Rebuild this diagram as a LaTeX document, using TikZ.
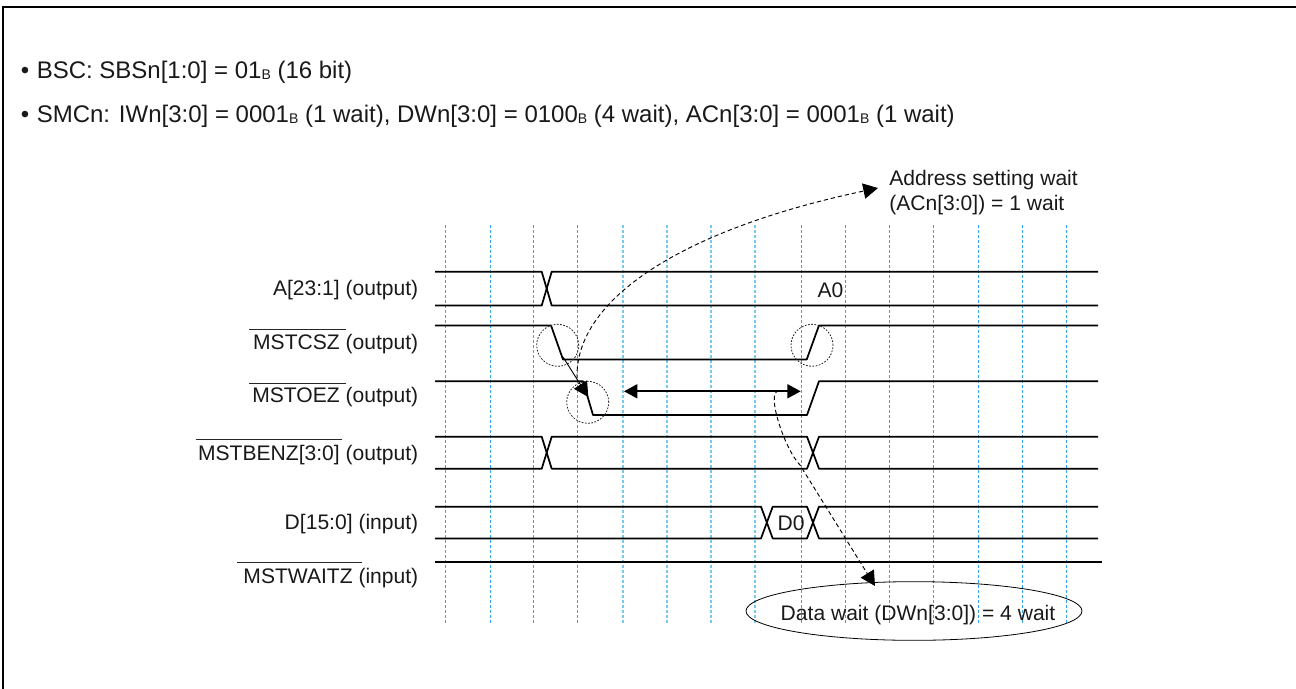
\documentclass[tikz,border=0pt]{standalone}
\usepackage{fontspec}
\setmainfont{Liberation Sans}
\usetikzlibrary{arrows.meta,shapes.geometric}
\definecolor{gridblue}{RGB}{50,165,230}
\definecolor{gridlight}{RGB}{120,200,240}
\newcommand{\subB}{\raisebox{-0.8pt}{\fontsize{10.5pt}{10.5pt}\selectfont B}}
\tikzset{
  txt/.style={font=\fontsize{15.8pt}{18pt}\selectfont,inner sep=0pt,text=black!90},
  hdr/.style={font=\fontsize{18pt}{20pt}\selectfont,inner sep=0pt,text=black!90,anchor=base west},
  siglabel/.style={txt,anchor=east},
  wave/.style={line width=1.3pt,black,line join=round},
  gridline/.style={gridblue,line width=0.7pt,dash pattern=on 2.25pt off 1.5pt},
  gridwide/.style={gridlight,line width=1.1pt,dash pattern=on 2.25pt off 1.5pt},
  ring/.style={draw,circle,black!85,line width=0.6pt,dash pattern=on 1.3pt off 1.1pt,minimum size=31.5pt,inner sep=0pt},
  bartop/.style={black!85,line width=0.6pt},
  bigtip/.style={-{Triangle[length=11pt,width=11.5pt]}},
  waitarrow/.style={bigtip,black,line width=0.7pt,dash pattern=on 3.2pt off 2.2pt},
}
\begin{document}
\begin{tikzpicture}[x=0.75pt,y=-0.75pt]
\useasboundingbox (0,0) rectangle (1296,689);
% frame
\coordinate (fa) at (2.7,689);
\coordinate (fb) at (2.7,6.5);
\coordinate (fc) at (1296,6.5);
\draw[black,line width=1.5pt] (fa) -- (fb) -- (fc);
% header
\node[hdr] (hdrA) at (20.5,78) {\makebox[12pt][l]{•}BSC: SBSn[1:0] = 01\subB{} (16 bit)};
\node[hdr] (hdrB) at (20.5,122) {\makebox[12pt][l]{•}SMCn: IWn[3:0] = 0001\subB{} (1 wait), DWn[3:0] = 0100\subB{} (4 wait), ACn[3:0] = 0001\subB{} (1 wait)};
% grid
\foreach \gx in {445,490,533,577,801,845,889,933,978,1022,1066}
  \draw[gridline] (\gx,225) -- (\gx,623);
\foreach \gx in {623,667,711,755}
  \draw[gridwide] (\gx,225) -- (\gx,623);
% waveforms
\draw[wave] (435,271.7) -- (541.7,271.7) -- (551.7,305.5) -- (1098,305.5);
\draw[wave] (435,305.5) -- (541.7,305.5) -- (551.7,271.7) -- (1098,271.7);
\draw[wave] (435,325.4) -- (551,325.4) -- (563,359.5) -- (806.7,359.5) -- (819,325.4) -- (1098,325.4);
\draw[wave] (435,381.2) -- (583,381.2) -- (593,415) -- (807,415) -- (819,381.2) -- (1098,381.2);
\draw[wave] (435,436.7) -- (541.7,436.7) -- (551.7,468.7) -- (807,468.7) -- (819,436.7) -- (1098,436.7);
\draw[wave] (435,468.7) -- (541.7,468.7) -- (551.7,436.7) -- (807,436.7) -- (819,468.7) -- (1098,468.7);
\draw[wave] (435,506.7) -- (761,506.7) -- (772.7,538.4) -- (807,538.4) -- (819,506.7) -- (1098,506.7);
\draw[wave] (435,538.4) -- (761,538.4) -- (772.7,506.7) -- (807,506.7) -- (819,538.4) -- (1098,538.4);
\draw[wave] (435,562.3) -- (1102,562.3);
% signal labels
\node[siglabel] (lA) at (418.5,290) {A[23:1] (output)};
\node[siglabel] (lC) at (418.5,344) {MSTCSZ (output)};
\node[siglabel] (lO) at (418.5,397) {MSTOEZ (output)};
\node[siglabel] (lB) at (418.5,455) {MSTBENZ[3:0] (output)};
\node[siglabel] (lD) at (418.5,524) {D[15:0] (input)};
\node[siglabel] (lW) at (418.5,578) {MSTWAITZ (input)};
\draw[bartop] (249,329.3) -- (346,329.3);
\draw[bartop] (249,383.3) -- (346,383.3);
\draw[bartop] (195.7,439) -- (342,439);
\draw[bartop] (237,562.6) -- (362,562.6);
\node[txt] (aval) at (830.5,290) {A0};
\node[txt] (dval) at (791,523) {D0};
% rings
\node[ring] (r1) at (557.7,345.3) {};
\node[ring] (r2) at (587.7,402.3) {};
\node[ring] (r3) at (812,345.3) {};
% annotation nodes
\node[draw,ellipse,black,line width=0.6pt,minimum width=252pt,minimum height=44pt,inner sep=0pt] (dw) at (914,611) {};
\node[txt] (dwt) at (918,615) {Data wait (DWn[3:0]) = 4 wait};
\node[txt,anchor=north west,align=left,font=\fontsize{15.8pt}{18.75pt}\selectfont] (ac) at (889,170) {Address setting wait\\(ACn[3:0]) = 1 wait};
% arrows
\coordinate (s1) at (563,357);
\coordinate (e1) at (588.3,397);
\draw[bigtip,line width=0.7pt] (s1) -- (e1);
\coordinate (d1) at (624,391.3);
\coordinate (d2) at (800.7,391.3);
\draw[{Triangle[length=10pt,width=10.5pt]}-{Triangle[length=10pt,width=10.5pt]},line width=1.3pt] (d1) -- (d2);
\coordinate (a0) at (577,378);
\coordinate (a1) at (878,188);
\draw[waitarrow] (a0) .. controls (575,300) and (680,230) .. (a1);
\coordinate (b0) at (779,390.7);
\coordinate (b1) at (875,586);
\draw[waitarrow] (b0) .. controls (765,391) and (785,450) .. (800,465) -- (b1);
\end{tikzpicture}
\end{document}
